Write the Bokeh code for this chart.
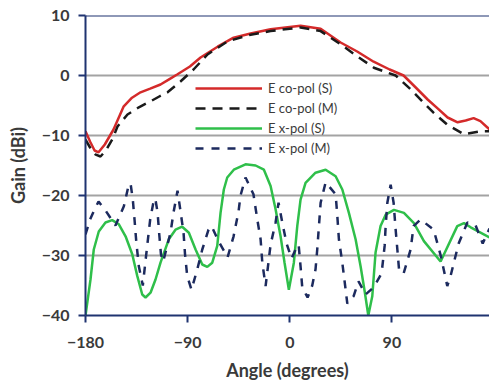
from bokeh.plotting import figure
from bokeh.models import (FixedTicker, Span, Legend, LegendItem, Range1d)
from bokeh.embed import file_html
from bokeh.resources import INLINE

# ---- data ----
co_s_angle = [-180, -176, -172, -168.5, -163, -155.3, -146.5, -139, -131.5, -123, -113.9, -106, -98.9,
              -88, -78.6, -63.6, -49.5, -34.5, -16.9, 0, 9.5, 27.2, 44.8, 59.4, 73.9, 88, 100.3, 111,
              121.5, 131, 139.1, 147.9, 155, 162, 168, 174.4, 176]
co_s_gain = [-9.3, -11.0, -12.5, -12.8, -11.5, -9.0, -5.2, -3.7, -2.8, -2.2, -1.5, -0.6, 0.2,
             1.5, 3.0, 4.8, 6.3, 7.0, 7.7, 8.1, 8.3, 7.8, 5.5, 4.0, 2.3, 1.0, 0.0, -2.0,
             -4.0, -5.6, -7.0, -7.8, -7.5, -7.1, -7.6, -8.7, -9.0]

co_m_angle = [-180, -176, -171, -166.8, -162, -156, -151.8, -143, -133, -122.7, -115, -107.7, -96.3,
              -84.8, -72.5, -54.8, -34.5, -16.9, 0, 9.5, 27.2, 44.8, 59.4, 74.1, 93.3, 106.5, 116.8,
              126.7, 138.8, 153.5, 168.2, 176]
co_m_gain = [-10.7, -12.0, -13.2, -13.5, -12.5, -10.5, -8.5, -6.5, -5.3, -4.3, -3.5, -2.8, -1.0,
             1.0, 3.5, 5.7, 6.8, 7.4, 7.8, 8.0, 7.4, 5.2, 3.2, 1.3, 0.0, -2.3, -4.3,
             -6.2, -8.2, -9.8, -9.3, -9.3]

x_s_angle = [-180, -175.6, -172.7, -168.3, -162.4, -156.5, -150.6, -144.7, -138.8, -134.4, -130, -127.1,
             -122.7, -118.3, -113.9, -106.6, -100.7, -94.8, -88.9, -83, -77.1, -72.7, -68.3, -63.9, -61,
             -58.1, -55.1, -49.3, -39, -30.1, -22.8, -16.9, -12.5, -8.1, -4.6, -0.8, 3.6, 6.6, 9.5,
             13.9, 22.7, 31.6, 40.4, 46.3, 52.1, 58, 62.4, 66.2, 69.2, 72.7, 75.6, 80, 84.5, 91.8,
             100.6, 109.4, 118.2, 132.9, 147.6, 153.5, 159.4, 176]
x_s_gain = [-40, -34, -29, -26, -24.5, -24.1, -24.8, -26.8, -29.8, -33.4, -36.5, -37,
            -36.2, -34, -31.2, -27.3, -25.7, -25.2, -26.2, -29, -31.5, -31.9, -31.2, -28.4, -22.9,
            -19, -17, -15.7, -14.8, -15, -15.7, -18.4, -22.3, -26.8, -31.2, -35.7, -31.2, -25.1, -20.7,
            -17.9, -16.2, -15.7, -16.8, -19, -22.9, -27.3, -31.8, -36.2, -40, -36.8, -29.5, -25.1, -23.2, -22.4,
            -22.9, -24.6, -27.6, -31, -25.1, -24.6, -25.3, -27]

x_m_angle = [-180, -176, -172, -168.5, -162, -153.6, -146.2, -141.9, -140.3, -138.3, -136.8, -135.3, -133,
             -129.5, -126, -123, -120, -118.5, -116.5, -115, -113.5, -111.5, -105.1, -102.4, -98.9, -96.3,
             -93.6, -92.3, -90.4, -86.6, -81.5, -77.1, -71.6, -68.9, -62.8, -54.8, -49.5, -45.1, -43.4,
             -39, -32, -28.6, -25.7, -24.2, -21.3, -16.9, -12.5, -9.9, -6.6, -2.8, 1.6, 5.1, 7.8, 9.5, 11,
             15.7, 19.8, 22.7, 24.2, 25.7, 27.2, 31.6, 40.4, 41.9, 43.3, 46.3, 50.7, 56.2, 60.6, 66.8,
             73.9, 80.9, 83.6, 84.5, 86, 88.9, 91.5, 93.3, 94.8, 96.4, 100.3, 106.5, 109.1, 115.3, 126.8,
             133, 138.8, 141.7, 148.8, 156.5, 163.8, 170, 176]
x_m_gain = [-26.5, -24, -22.3, -21, -22.6, -25, -21.8, -18.2, -18, -20.7, -24, -27.6, -31.8,
            -35, -29, -24, -21, -20.5, -22.8, -26.5, -29.8, -31, -26.2, -22.8, -19.2, -22.6,
            -26.2, -29.8, -33.4, -35.7, -32.3, -29, -25.7, -25.1, -27.6, -30.3, -26.8, -22.6, -20,
            -17, -19.8, -24, -27.3, -31.2, -35.1, -28.2, -24.5, -21.2, -24.5, -28, -30.5, -29, -28.2, -31.8, -35.3,
            -37, -35, -32.3, -29, -25.1, -21.2, -17.8, -19.8, -23.4, -27.3, -31.2, -38, -36.8, -34.3, -36.5,
            -35.3, -33, -28.4, -25.1, -21.2, -18.2, -21.2, -25.7, -29, -32.6, -33, -29, -25.1, -24, -25.7,
            -30, -35.1, -33.4, -28, -24.5, -25, -28, -25.5]

y_ticks = [10, 0, -10, -20, -30, -40]
x_ticks = [-180, -90, 0, 90, 180]

NAVY = "#1f3370"
TXT = "#3a3a3a"
FONT = "Lato"

p = figure(width=489, height=383, output_backend="svg", toolbar_location=None,
           x_range=Range1d(-180, 176), y_range=Range1d(-40, 10),
           min_border_left=85, min_border_right=0, min_border_top=15, min_border_bottom=67)
p.background_fill_color = "white"
p.border_fill_color = "white"
p.outline_line_color = None

p.xgrid.grid_line_color = None
p.ygrid.grid_line_color = "#a3a3a3"
p.ygrid.grid_line_width = 2
p.ygrid.ticker = FixedTicker(ticks=[0, -10, -20, -30])

for ax in (p.xaxis[0], p.yaxis[0]):
    ax.axis_line_color = NAVY
    ax.axis_line_width = 2
    ax.major_tick_line_color = NAVY
    ax.major_tick_line_width = 2
    ax.major_tick_out = 7
    ax.major_tick_in = 0
    ax.minor_tick_line_color = None
    ax.major_label_text_font = FONT
    ax.major_label_text_font_style = "bold"
    ax.major_label_text_font_size = "16px"
    ax.major_label_text_color = TXT
    ax.axis_label_text_font = FONT
    ax.axis_label_text_font_style = "bold"
    ax.axis_label_text_font_size = "18px"
    ax.axis_label_text_color = TXT

p.xaxis.ticker = FixedTicker(ticks=x_ticks)
p.yaxis.ticker = FixedTicker(ticks=y_ticks)
p.xaxis.axis_label = "Angle (degrees)"
p.yaxis.axis_label = "Gain (dBi)"
p.xaxis.major_label_standoff = 14
p.yaxis.major_label_standoff = 9
p.xaxis.axis_label_standoff = 8
p.yaxis.axis_label_standoff = 10

p.add_layout(Span(location=10, dimension="width", line_color=NAVY, line_width=2))

r1 = p.line(co_s_angle, co_s_gain, line_color="#d42a2a", line_width=2.5)
r2 = p.line(co_m_angle, co_m_gain, line_color="#1a1a1a", line_width=2.5, line_dash="10 7")
r3 = p.line(x_s_angle, x_s_gain, line_color="#2fbf4a", line_width=2.5)
r4 = p.line(x_m_angle, x_m_gain, line_color="#1c2a5e", line_width=2.5, line_dash="8 8")

legend = Legend(items=[LegendItem(label="E co-pol (S)", renderers=[r1]),
                       LegendItem(label="E co-pol (M)", renderers=[r2]),
                       LegendItem(label="E x-pol (S)", renderers=[r3]),
                       LegendItem(label="E x-pol (M)", renderers=[r4])],
                location=(110, 157), background_fill_alpha=0, border_line_color=None,
                padding=0, margin=0, spacing=0, glyph_width=67, glyph_height=20,
                label_height=20, label_standoff=6,
                label_text_font=FONT, label_text_font_size="13px", label_text_color=TXT)
p.add_layout(legend, "center")

open("out.html", "w").write(file_html(p, INLINE))
